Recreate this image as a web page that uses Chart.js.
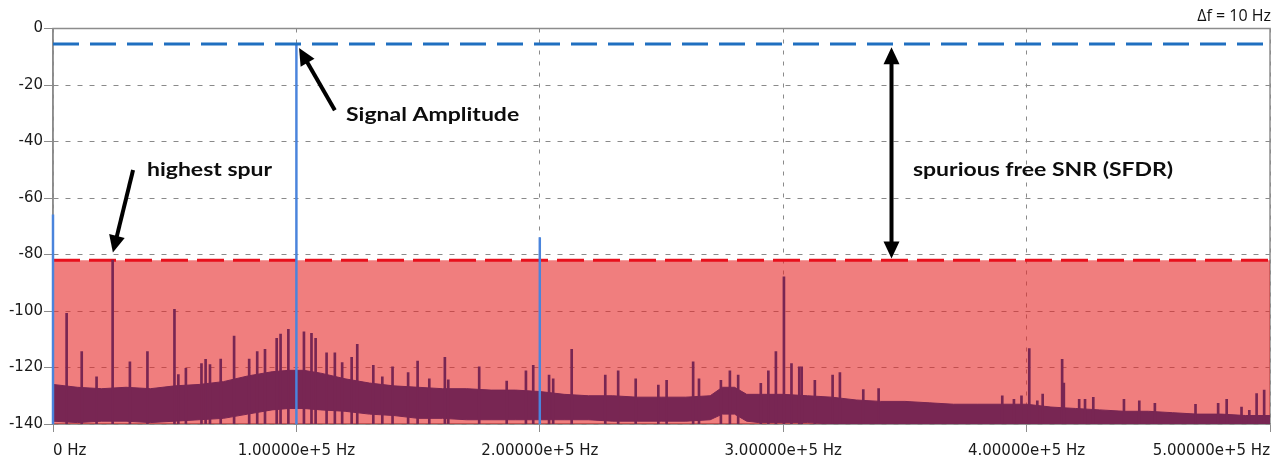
<!DOCTYPE html>
<html>
<head>
<meta charset="utf-8">
<script src="https://cdn.jsdelivr.net/npm/chart.js@4.4.1/dist/chart.umd.min.js"></script>
<style>
  html, body { margin: 0; padding: 0; background: #fff; }
</style>
</head>
<body>
<canvas id="chart" width="1280" height="465"></canvas>
<script>
// axis ticks
const xTickValues = [0, 100000, 200000, 300000, 400000, 500000];
const xTickLabels = ['0 Hz', '1.00000e+5 Hz', '2.00000e+5 Hz', '3.00000e+5 Hz', '4.00000e+5 Hz', '5.00000e+5 Hz'];
const yTickValues = [0, -20, -40, -60, -80, -100, -120, -140];

// blue components: DC, carrier, 2nd harmonic (kHz / dB)
const signalFreqs = [0, 100, 200];
const signalLevels = [-66, -5.5, -74];

const signalAmplitude = -5.5;
const highestSpur = -82;

// noise floor band (kHz / dB)
const floorFreqs = [0, 10, 20, 30, 40, 50, 60, 70, 80, 90, 97, 103, 110, 120, 130, 140, 150, 160, 170, 180, 190, 200,
  210, 220, 230, 240, 250, 260, 270, 275, 280, 285, 290, 300, 310, 320, 330, 340, 350, 360, 370, 380, 390, 400,
  410, 420, 430, 440, 450, 460, 470, 480, 490, 500];
const floorTop = [-126, -127, -127.5, -127, -127.5, -126.5, -126, -125, -123, -121.5, -121, -121, -122, -124, -125.5, -126.5, -127, -127.5, -127.5, -128, -128, -128.5,
  -129.5, -130, -130, -130.5, -130.5, -130.5, -130, -127, -127, -129.5, -129.5, -129.5, -130, -130.5, -131.5, -132, -132, -132.5, -133, -133, -133, -133,
  -134, -134.5, -135, -135.5, -135.5, -136, -136.5, -136.5, -137, -137];
const floorBottom = [-139, -139.5, -139, -139, -139.5, -139, -138.5, -138, -136.5, -135, -134.5, -134.5, -135, -135.5, -136.5, -137, -138, -138, -138.5, -138.5, -138.5, -138.5,
  -138.5, -138.5, -139, -139, -139, -139, -138.5, -136.5, -136.5, -139, -139.5, -139.5, -139.5, -140, -140, -140, -140, -140, -140, -140, -140, -140,
  -140, -140, -140, -140, -140, -140, -140, -140, -140, -140];

// spurs (kHz / dB)
const spurFreqs = [5.6, 11.8, 17.9, 24.5, 31.6, 38.8, 49.9, 51.5, 54.6, 61.0, 62.7, 64.5, 68.9, 74.4, 80.6, 83.9, 87.1, 91.9, 93.5, 96.7,
  103.1, 106.2, 107.9, 112.4, 115.8, 118.8, 122.7, 125.0, 131.6, 135.3, 139.5, 145.9, 149.8, 154.6, 161.0, 162.4, 175.1, 186.4, 194.3, 197.3,
  203.8, 205.5, 213.1, 226.9, 232.2, 239.4, 248.7, 252.1, 263.0, 265.4, 274.4, 278.1, 281.5, 290.8, 293.9, 297.0, 300.3, 303.4, 306.6, 307.6,
  313.0, 320.3, 323.3, 332.9, 339.2, 390.0, 394.8, 397.9, 401.1, 404.4, 406.6, 414.6, 415.3, 421.6, 424.0, 427.4, 440.0, 446.3, 452.7, 469.4,
  478.7, 482.2, 488.3, 491.5, 494.5, 497.6];
const spurLevels = [-100.8, -114.4, -123.3, -82, -118, -114.4, -99.4, -122.5, -120.3, -118.6, -117.1, -119, -117, -108.9, -117, -114.4, -113.6, -109.7, -108.2, -106.5,
  -107.4, -107.9, -109.7, -114.8, -114.8, -118.3, -116.4, -111.8, -119.2, -123.3, -119.8, -121.8, -117.7, -124, -116.4, -124.4, -119.8, -124.8, -121.2, -119.2,
  -122.7, -124, -113.6, -122.7, -121.2, -124, -126.2, -124.5, -118, -124, -124.5, -121.2, -122.7, -125.6, -121.2, -114.4, -87.9, -118.6, -119.8, -119.8,
  -124.5, -122.7, -121.8, -127.8, -127.5, -130, -131.3, -130, -113.3, -131.8, -129.4, -117.1, -125.5, -131.3, -131.3, -130.6, -131.3, -131.8, -132.7, -133,
  -132.7, -131.3, -134, -135.2, -129.2, -128];

// annotations (kHz / dB)
const arrows = [
  { from: [115.8, -28.9], to: [101.1, -6.9], both: false },
  { from: [32.9, -50.1], to: [24.6, -79.3], both: false },
  { from: [344.5, -6.6], to: [344.5, -81.4], both: true }
];
const notes = [
  { text: 'Signal Amplitude', at: [120.4, -30.7] },
  { text: 'highest spur', at: [38.6, -50.2] },
  { text: 'spurious free SNR (SFDR)', at: [353.3, -50.2] }
];

const yMin = -140, yMax = 0;
const maroon = '#782653';
const gridGrey = '#8a8a8a';
const axisGrey = '#8c8c8c';

function drawHead(ctx, fx, fy, tx, ty) {
  const a = Math.atan2(ty - fy, tx - fx);
  const hl = 17, hw = 8;
  ctx.beginPath();
  ctx.moveTo(tx, ty);
  ctx.lineTo(tx - hl * Math.cos(a) + hw * Math.sin(a), ty - hl * Math.sin(a) - hw * Math.cos(a));
  ctx.lineTo(tx - hl * Math.cos(a) - hw * Math.sin(a), ty - hl * Math.sin(a) + hw * Math.cos(a));
  ctx.closePath();
  ctx.fill();
}

const boxPlugin = {
  id: 'box',
  beforeDatasetsDraw(chart) {
    const { ctx, chartArea: c } = chart;
    ctx.save();
    ctx.strokeStyle = axisGrey;
    ctx.lineWidth = 1.5;
    ctx.strokeRect(c.left, c.top, c.right - c.left, c.bottom - c.top);
    ctx.restore();
  }
};

const notesPlugin = {
  id: 'notes',
  afterDatasetsDraw(chart) {
    const { ctx, scales: { x, y } } = chart;
    ctx.save();
    ctx.strokeStyle = '#000';
    ctx.fillStyle = '#000';
    ctx.lineWidth = 4;
    arrows.forEach(a => {
      const x1 = x.getPixelForValue(a.from[0] * 1000), y1 = y.getPixelForValue(a.from[1]);
      const x2 = x.getPixelForValue(a.to[0] * 1000), y2 = y.getPixelForValue(a.to[1]);
      const ang = Math.atan2(y2 - y1, x2 - x1);
      const sx = a.both ? x1 + 12 * Math.cos(ang) : x1, sy = a.both ? y1 + 12 * Math.sin(ang) : y1;
      ctx.beginPath();
      ctx.moveTo(sx, sy);
      ctx.lineTo(x2 - 12 * Math.cos(ang), y2 - 12 * Math.sin(ang));
      ctx.stroke();
      drawHead(ctx, x1, y1, x2, y2);
      if (a.both) drawHead(ctx, x2, y2, x1, y1);
    });
    ctx.fillStyle = '#0d0d0d';
    ctx.font = 'bold 19px Lato';
    ctx.textBaseline = 'middle';
    notes.forEach(n => {
      ctx.save();
      ctx.translate(x.getPixelForValue(n.at[0] * 1000), y.getPixelForValue(n.at[1]));
      ctx.scale(1.21, 1);
      ctx.fillText(n.text, 0, 0);
      ctx.restore();
    });
    ctx.restore();
  }
};

const line = (xs, ys) => xs.map((f, i) => ({ x: f * 1000, y: ys[i] }));
const sticks = (xs, ys) => xs.map((f, i) => ({ x: f * 1000, y: [yMin, ys[i]] }));

new Chart(document.getElementById('chart'), {
  type: 'line',
  data: {
    datasets: [
      {
        // carrier level
        data: [{ x: 0, y: signalAmplitude }, { x: 500000, y: signalAmplitude }],
        borderColor: '#1f6fc0', borderWidth: 3, borderDash: [26, 11],
        pointRadius: 0, fill: false, order: 1
      },
      {
        type: 'bar',
        data: sticks(signalFreqs, signalLevels),
        backgroundColor: '#4a84dc', barThickness: 1.8, grouped: false, clip: 2, order: 2
      },
      {
        type: 'bar',
        data: sticks(spurFreqs, spurLevels),
        backgroundColor: maroon, barThickness: 2, grouped: false, order: 3
      },
      {
        data: line(floorFreqs, floorTop),
        borderColor: maroon, borderWidth: 1, backgroundColor: maroon,
        pointRadius: 0, fill: '+1', order: 4
      },
      {
        data: line(floorFreqs, floorBottom),
        borderColor: maroon, borderWidth: 1,
        pointRadius: 0, fill: false, order: 4
      },
      {
        // spur-free zone limit
        data: [{ x: 0, y: highestSpur }, { x: 500000, y: highestSpur }],
        borderColor: '#e8101c', borderWidth: 3, borderDash: [27, 9],
        backgroundColor: 'rgba(230, 40, 40, 0.6)',
        pointRadius: 0, fill: 'start', order: 5
      }
    ]
  },
  options: {
    responsive: false,
    animation: false,
    events: [],
    layout: { padding: { left: 0, right: 9, top: 0, bottom: 0 } },
    plugins: {
      legend: { display: false },
      tooltip: { enabled: false },
      title: {
        display: true, text: 'Δf = 10 Hz', align: 'end', color: '#111',
        font: { family: 'Open Sans', size: 16, weight: 'normal' },
        padding: { top: 7, bottom: 2.3 }
      }
    },
    scales: {
      x: {
        type: 'linear', min: 0, max: 500000, offset: false,
        afterBuildTicks: s => { s.ticks = xTickValues.map(v => ({ value: v })); },
        afterFit: s => { s.height = 41; },
        ticks: {
          callback: (v, i) => xTickLabels[i],
          align: 'inner', maxRotation: 0, autoSkip: false, padding: 10,
          color: '#1a1a1a', font: { family: 'DejaVu Sans', size: 15 }
        },
        grid: { color: gridGrey, lineWidth: 1, tickLength: 8, tickColor: axisGrey, offset: false },
        border: { color: axisGrey, width: 1.5, dash: [4, 7] }
      },
      y: {
        min: yMin, max: yMax,
        afterBuildTicks: s => { s.ticks = yTickValues.map(v => ({ value: v })); },
        afterFit: s => { s.width = 53; },
        ticks: {
          padding: 1, color: '#1a1a1a', font: { family: 'DejaVu Sans', size: 15 }
        },
        grid: { color: gridGrey, lineWidth: 1, tickLength: 9, tickColor: axisGrey },
        border: { color: axisGrey, width: 1.5, dash: [5, 7] }
      }
    }
  },
  plugins: [boxPlugin, notesPlugin]
});
</script>
</body>
</html>
